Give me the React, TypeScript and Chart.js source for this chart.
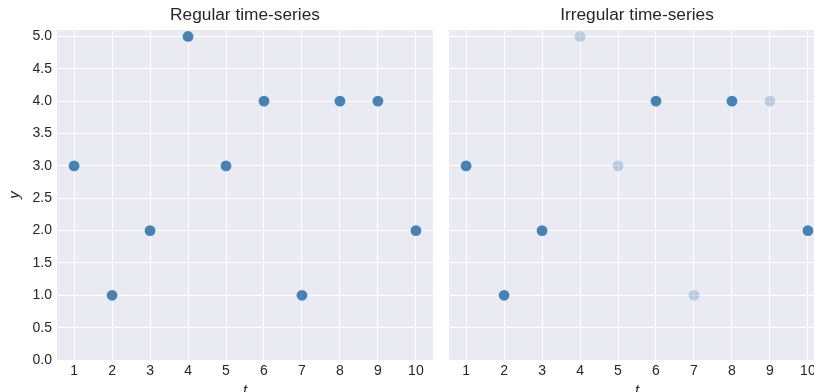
import React, { useEffect, useRef } from "react";
import { Chart, registerables } from "chart.js";

Chart.register(...registerables);

const tValues = [1, 2, 3, 4, 5, 6, 7, 8, 9, 10];
const yValues = [3, 1, 2, 5, 3, 4, 1, 4, 4, 2];
const irregularObserved = [true, true, true, false, false, true, false, true, false, true];
const xTickValues = [1, 2, 3, 4, 5, 6, 7, 8, 9, 10];
const xTickLabels = ["1", "2", "3", "4", "5", "6", "7", "8", "9", "10"];
const yTickValues = [0, 0.5, 1, 1.5, 2, 2.5, 3, 3.5, 4, 4.5, 5];
const yTickLabels = ["0.0", "0.5", "1.0", "1.5", "2.0", "2.5", "3.0", "3.5", "4.0", "4.5", "5.0"];
const panelTitles = ["Regular time-series", "Irregular time-series"];
const xAxisLabel = "t";
const yAxisLabel = "y";

const FONT = "'Liberation Sans', Arial, Helvetica, sans-serif";
const TEXT = "#262626";
const BG = "#EAEAF2";
const DARK = "rgb(70,130,180)";
const LIGHT = "rgba(70,130,180,0.3)";

const bgPlugin = {
  id: "panelBg",
  beforeDraw(chart: any) {
    const { ctx, chartArea } = chart;
    ctx.save();
    ctx.fillStyle = BG;
    ctx.fillRect(chartArea.left, chartArea.top, chartArea.right - chartArea.left, chartArea.bottom - chartArea.top);
    ctx.restore();
  },
};

function makeConfig(panel: number): any {
  const isLeft = panel === 0;
  const colors = yValues.map((_, i) => (panel === 0 || irregularObserved[i] ? DARK : LIGHT));
  return {
    type: "scatter",
    data: {
      datasets: [
        {
          data: tValues.map((t, i) => ({ x: t, y: yValues[i] })),
          backgroundColor: colors,
          pointBackgroundColor: colors,
          borderWidth: 0,
          pointBorderWidth: 0,
          pointRadius: 5.4,
          pointHoverRadius: 5.4,
        },
      ],
    },
    plugins: [bgPlugin],
    options: {
      responsive: false,
      animation: false,
      events: [],
      layout: { padding: { left: 0, right: isLeft ? 7 : 15, top: 0, bottom: 0 } },
      plugins: {
        legend: { display: false },
        tooltip: { enabled: false },
        title: {
          display: true,
          text: panelTitles[panel],
          fullSize: false,
          color: TEXT,
          font: { family: FONT, size: 17.3, weight: "normal", lineHeight: 1.2 },
          padding: { top: 5.2, bottom: 4.04 },
        },
      },
      scales: {
        x: {
          type: "linear",
          min: 0.55,
          max: 10.45,
          afterBuildTicks: (s: any) => {
            s.ticks = xTickValues.map((v) => ({ value: v }));
          },
          afterFit: (s: any) => {
            s.height = 40;
          },
          ticks: {
            color: TEXT,
            padding: 3,
            maxRotation: 0,
            autoSkip: false,
            font: { family: FONT, size: 14 },
            callback: (_v: any, i: number) => xTickLabels[i],
          },
          grid: { color: "#FFFFFF", lineWidth: 1, drawTicks: false },
          border: { display: false },
          title: {
            display: true,
            text: xAxisLabel,
            color: TEXT,
            font: { family: FONT, size: 15, style: "italic", lineHeight: 1.2 },
            padding: { top: 0, bottom: 0 },
          },
        },
        y: {
          type: "linear",
          min: 0,
          max: 5.1,
          afterBuildTicks: (s: any) => {
            s.ticks = yTickValues.map((v) => ({ value: v }));
          },
          afterFit: (s: any) => {
            s.width = isLeft ? 57 : 9;
          },
          ticks: {
            display: isLeft,
            color: TEXT,
            padding: 5,
            autoSkip: false,
            font: { family: FONT, size: 14 },
            callback: (_v: any, i: number) => yTickLabels[i],
          },
          grid: { color: "#FFFFFF", lineWidth: 1, drawTicks: false },
          border: { display: false },
          title: {
            display: isLeft,
            text: yAxisLabel,
            color: TEXT,
            font: { family: FONT, size: 15, style: "italic", lineHeight: 1.2 },
            padding: { top: 6, bottom: 0 },
          },
        },
      },
    },
  };
}

export default function App() {
  const leftRef = useRef<HTMLCanvasElement | null>(null);
  const rightRef = useRef<HTMLCanvasElement | null>(null);

  useEffect(() => {
    const charts: Chart[] = [];
    if (leftRef.current) charts.push(new Chart(leftRef.current, makeConfig(0)));
    if (rightRef.current) charts.push(new Chart(rightRef.current, makeConfig(1)));
    return () => charts.forEach((c) => c.destroy());
  }, []);

  return (
    <div
      style={{
        position: "absolute",
        left: 0,
        top: 0,
        width: 814,
        height: 392,
        overflow: "hidden",
        background: "#FFFFFF",
      }}
    >
      <canvas
        ref={leftRef}
        width={440}
        height={400}
        style={{ position: "absolute", left: 0, top: 0, width: 440, height: 400 }}
      />
      <canvas
        ref={rightRef}
        width={400}
        height={400}
        style={{ position: "absolute", left: 440, top: 0, width: 400, height: 400 }}
      />
    </div>
  );
}
